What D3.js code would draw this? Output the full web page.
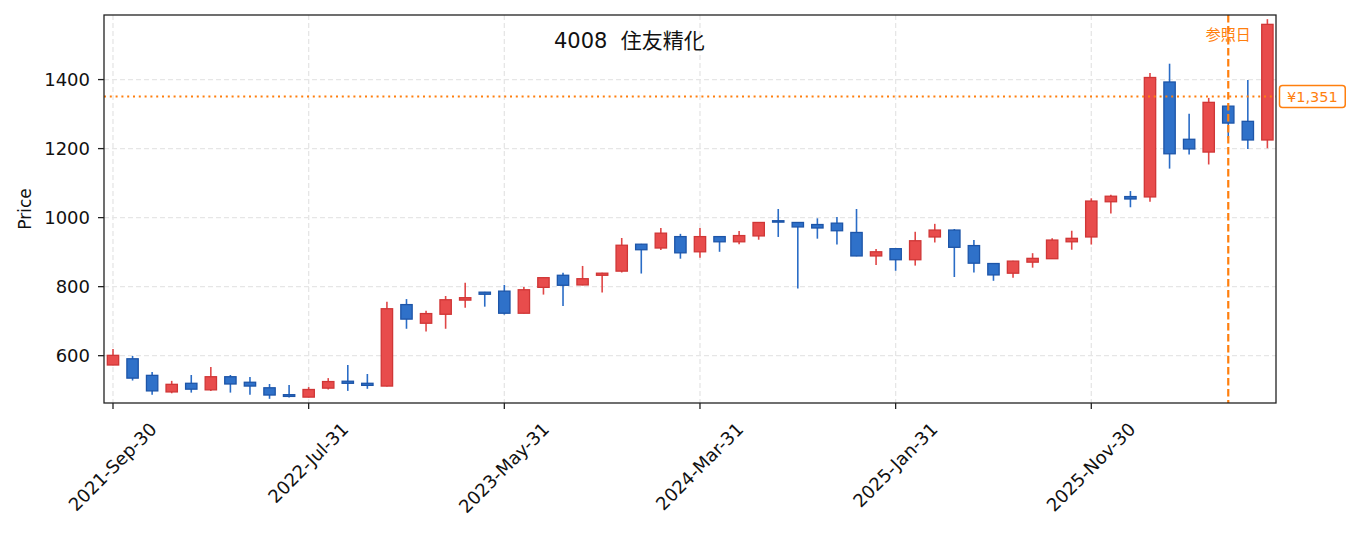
<!DOCTYPE html>
<html>
<head>
<meta charset="utf-8">
<script src="https://cdn.jsdelivr.net/npm/d3@7"></script>
<style>
    body { margin: 0; background: #ffffff; }
    svg text { font-family: "DejaVu Sans", "Noto Sans CJK JP", sans-serif; }
</style>
</head>
<body>
<svg id="chart" width="1355" height="533"></svg>
<script>

// monthly candles (index 0 = 2021-Sep)
let opens  = [573, 591, 543, 495, 520, 501, 539, 523, 507, 487,
              480, 506, 526, 520, 512, 748, 694, 720, 761, 784,
              787, 723, 798, 833, 805, 833, 845, 923, 912, 945,
              901, 945, 930, 947, 991, 986, 980, 984, 957, 889,
              910, 878, 944, 964, 919, 867, 839, 871, 881, 930,
              944, 1046, 1061, 1060, 1393, 1227, 1190, 1323, 1279, 1225];
let highs  = [619, 599, 553, 527, 544, 567, 544, 538, 518, 515,
              509, 535, 573, 547, 756, 764, 730, 773, 811, 785,
              805, 799, 827, 840, 860, 840, 941, 924, 970, 953,
              970, 946, 961, 987, 1025, 987, 998, 1002, 1025, 909,
              911, 959, 982, 967, 935, 868, 875, 897, 940, 962,
              1056, 1066, 1077, 1419, 1446, 1301, 1347, 1324, 1399, 1575];
let lows   = [572, 528, 487, 491, 493, 498, 493, 487, 475, 479,
              479, 502, 498, 504, 511, 678, 670, 678, 739, 742,
              719, 722, 777, 744, 804, 783, 841, 838, 906, 881,
              884, 901, 923, 936, 944, 795, 939, 922, 888, 863,
              846, 861, 928, 828, 841, 817, 826, 855, 880, 907,
              922, 1012, 1030, 1046, 1142, 1183, 1154, 1230, 1199, 1201];
let closes = [601, 535, 498, 517, 503, 539, 518, 512, 486, 482,
              502, 525, 520, 514, 736, 706, 722, 762, 768, 778,
              723, 791, 826, 804, 823, 839, 920, 907, 955, 898,
              945, 930, 948, 986, 987, 973, 970, 962, 889, 901,
              878, 933, 964, 914, 868, 834, 874, 882, 935, 940,
              1048, 1062, 1054, 1406, 1185, 1199, 1334, 1274, 1225, 1560];

let tickIndex  = [0, 10, 20, 30, 40, 50];
let tickLabels = ["2021-Sep-30", "2022-Jul-31", "2023-May-31", "2024-Mar-31", "2025-Jan-31", "2025-Nov-30"];
let yTicks     = [600, 800, 1000, 1200, 1400];

let titleText = "4008  住友精化";
let refIndex  = 57;      // 参照日
let refPrice  = 1351;

let candles = opens.map((o, i) => ({
    i: i, open: o, high: highs[i], low: lows[i], close: closes[i]
}));

let margin = {top: 15, right: 79, bottom: 130, left: 104},
    width  = 1355 - margin.left - margin.right,
    height = 533 - margin.top - margin.bottom;

let svg = d3.select("#chart");
let g = svg.append("g").attr("transform", `translate(${margin.left},${margin.top})`);

let lowMin = d3.min(lows), highMax = d3.max(highs);
let pad = (highMax - lowMin) * 0.011;

let x = d3.scaleLinear().domain([-0.46, candles.length - 0.56]).range([0, width]);
let y = d3.scaleLinear().domain([lowMin - pad, highMax + pad]).range([height, 0]);

let step = x(1) - x(0);
let bodyW = step * 0.58;

const UP_FILL = "#e84c4c", UP_EDGE = "#d03636", UP_WICK = "#e04646";
const DN_FILL = "#2f71c9", DN_EDGE = "#1d55a8", DN_WICK = "#2a6cc6";
const ORANGE = "#ff7f0e";

// grid
g.append("g")
    .selectAll("line")
    .data(yTicks)
    .enter()
    .append("line")
    .attr("x1", 0).attr("x2", width)
    .attr("y1", d => y(d)).attr("y2", d => y(d))
    .style("stroke", "#e6e6e6").style("stroke-width", 1.3)
    .style("stroke-dasharray", "5,3");

g.append("g")
    .selectAll("line")
    .data(tickIndex)
    .enter()
    .append("line")
    .attr("x1", d => x(d)).attr("x2", d => x(d))
    .attr("y1", 0).attr("y2", height)
    .style("stroke", "#e6e6e6").style("stroke-width", 1.3)
    .style("stroke-dasharray", "5,3");

// candles
let cg = g.append("g");
cg.selectAll("line.wick")
    .data(candles)
    .enter()
    .append("line")
    .attr("class", "wick")
    .attr("x1", d => x(d.i)).attr("x2", d => x(d.i))
    .attr("y1", d => y(d.high)).attr("y2", d => y(d.low))
    .style("stroke", d => d.close >= d.open ? UP_WICK : DN_WICK)
    .style("stroke-width", 1.6);

cg.selectAll("rect.body")
    .data(candles)
    .enter()
    .append("rect")
    .attr("class", "body")
    .attr("x", d => x(d.i) - bodyW / 2)
    .attr("width", bodyW)
    .attr("y", d => y(Math.max(d.open, d.close)))
    .attr("height", d => Math.max(Math.abs(y(d.open) - y(d.close)), 1))
    .style("fill", d => d.close >= d.open ? UP_FILL : DN_FILL)
    .style("stroke", d => d.close >= d.open ? UP_EDGE : DN_EDGE)
    .style("stroke-width", 1.3);

// reference price line + reference date line
g.append("line")
    .attr("x1", 0).attr("x2", width)
    .attr("y1", y(refPrice)).attr("y2", y(refPrice))
    .style("stroke", ORANGE).style("stroke-width", 2)
    .style("stroke-dasharray", "2,3.8");

g.append("line")
    .attr("x1", x(refIndex)).attr("x2", x(refIndex))
    .attr("y1", 0).attr("y2", height)
    .style("stroke", ORANGE).style("stroke-width", 2.2)
    .style("stroke-dasharray", "7.5,3.5");

g.append("text")
    .attr("x", x(refIndex))
    .attr("y", 25)
    .attr("text-anchor", "middle")
    .style("font-size", "15px")
    .style("fill", ORANGE)
    .text("参照日");

// frame
g.append("rect")
    .attr("width", width).attr("height", height)
    .style("fill", "none").style("stroke", "#222").style("stroke-width", 1.3);

// y axis
let yAxis = g.append("g");
yAxis.selectAll("line")
    .data(yTicks)
    .enter()
    .append("line")
    .attr("x1", -6).attr("x2", 0)
    .attr("y1", d => y(d)).attr("y2", d => y(d))
    .style("stroke", "#222").style("stroke-width", 1.3);
yAxis.selectAll("text")
    .data(yTicks)
    .enter()
    .append("text")
    .attr("x", -14)
    .attr("y", d => y(d))
    .attr("dy", "0.36em")
    .attr("text-anchor", "end")
    .style("font-size", "18px")
    .style("fill", "#111")
    .text(d => d);

g.append("text")
    .attr("transform", `translate(${-79},${height / 2}) rotate(-90)`)
    .attr("text-anchor", "middle")
    .attr("dy", "0.36em")
    .style("font-size", "17px")
    .style("fill", "#111")
    .text("Price");

// x axis, labels rotated 45 deg and centred under the tick
let xAxis = g.append("g");
xAxis.selectAll("line")
    .data(tickIndex)
    .enter()
    .append("line")
    .attr("x1", d => x(d)).attr("x2", d => x(d))
    .attr("y1", height).attr("y2", height + 6)
    .style("stroke", "#222").style("stroke-width", 1.3);

let labelTop = height + 16;
xAxis.selectAll("text")
    .data(tickIndex)
    .enter()
    .append("text")
    .attr("text-anchor", "middle")
    .attr("dy", "0.32em")
    .style("font-size", "18px")
    .style("fill", "#111")
    .text((d, k) => tickLabels[k])
    .attr("transform", function (d) {
        let L = this.getComputedTextLength();
        let h = 18 * 1.16;
        let cy = labelTop + (L + h) / (2 * Math.SQRT2);
        return `translate(${x(d)},${cy}) rotate(-45)`;
    });

// title
g.append("text")
    .attr("x", 450)
    .attr("y", 33)
    .style("font-size", "21px")
    .style("fill", "#111")
    .style("white-space", "pre")
    .text(titleText);

// price tag on the right
let tag = g.append("g").attr("transform", `translate(${width + 11},${y(refPrice)})`);
let tagText = tag.append("text")
    .attr("dy", "0.36em")
    .style("font-size", "14.5px")
    .style("fill", ORANGE)
    .text("¥" + d3.format(",")(refPrice));
let bb = tagText.node().getBBox();
tag.insert("rect", "text")
    .attr("x", bb.x - 7.5).attr("y", -11)
    .attr("width", bb.width + 15).attr("height", 22)
    .attr("rx", 3)
    .style("fill", "#fff").style("stroke", ORANGE).style("stroke-width", 1.5);

</script>
</body>
</html>
